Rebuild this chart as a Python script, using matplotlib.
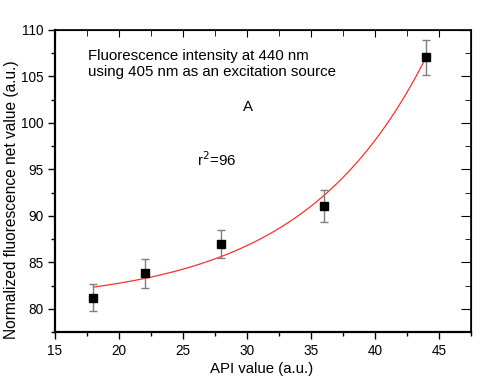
import numpy as np
import matplotlib
matplotlib.use("Agg")
import matplotlib.pyplot as plt
from matplotlib.ticker import MultipleLocator

plt.rcParams['font.family'] = ['Liberation Sans', 'DejaVu Sans']

api = [18, 22, 28, 36, 44]
fluor = [81.2, 83.8, 87.0, 91.05, 107.05]
err = [1.45, 1.55, 1.5, 1.75, 1.85]

# exponential fit y = y0 + A*exp(x/t), parameters
fit_y0 = 80.49
fit_A = 0.289
fit_t = 9.73
fit_range = [18, 44]

fig = plt.figure(figsize=(5, 3.8), dpi=100)
ax = fig.add_axes([0.11, 0.1263, 0.832, 0.795])

xs = np.linspace(fit_range[0], fit_range[1], 200)
ax.plot(xs, fit_y0 + fit_A * np.exp(xs / fit_t), color='#ff3030', lw=0.9, zorder=2)
ax.errorbar(api, fluor, yerr=err, fmt='none', ecolor='#7f7f7f', elinewidth=1.0,
            capsize=3, capthick=1.0, zorder=3)
ax.plot(api, fluor, 's', color='black', markersize=6.3, zorder=4)

ax.set_xlim(15, 47.5)
ax.set_ylim(77.5, 110)
ax.xaxis.set_major_locator(MultipleLocator(5))
ax.xaxis.set_minor_locator(MultipleLocator(2.5))
ax.yaxis.set_major_locator(MultipleLocator(5))
ax.yaxis.set_minor_locator(MultipleLocator(2.5))
ax.tick_params(which='both', direction='out', top=False, right=False, labelsize=9.8, width=1.0, color='black')
ax.tick_params(which='major', length=5)
ax.tick_params(which='minor', length=3)

axt = ax.secondary_xaxis('top')
axt.xaxis.set_major_locator(MultipleLocator(5))
axt.xaxis.set_minor_locator(MultipleLocator(2.5))
axt.tick_params(which='both', direction='in', labeltop=False)
axt.tick_params(which='major', length=5)
axt.tick_params(which='minor', length=4)
axr = ax.secondary_yaxis('right')
axr.yaxis.set_major_locator(MultipleLocator(5))
axr.yaxis.set_minor_locator(MultipleLocator(2.5))
axr.tick_params(which='both', direction='in', labelright=False)
axr.tick_params(which='major', length=7)
axr.tick_params(which='minor', length=4)

for s in ax.spines.values():
    s.set_linewidth(1.2)
ax.spines['left'].set_linewidth(1.6)
ax.spines['bottom'].set_linewidth(1.6)

fig.text(261.5 / 500, 1 - 369 / 380, 'API value (a.u.)', fontsize=10.8, ha='center', va='center')
fig.text(12 / 500, 1 - 200 / 380, 'Normalized fluorescence net value (a.u.)', fontsize=11.2,
         ha='center', va='center', rotation=90)

ax.text(17.6, 106.3, 'Fluorescence intensity at 440 nm\nusing 405 nm as an excitation source',
        fontsize=10.8, ha='left', va='center', linespacing=1.15)
ax.text(30.1, 101.7, 'A', fontsize=10.8, ha='center', va='center')
ax.text(27.6, 96.0, r'r$^2$=96', fontsize=10.8, ha='center', va='center')

fig.savefig('out.png', dpi=100)
